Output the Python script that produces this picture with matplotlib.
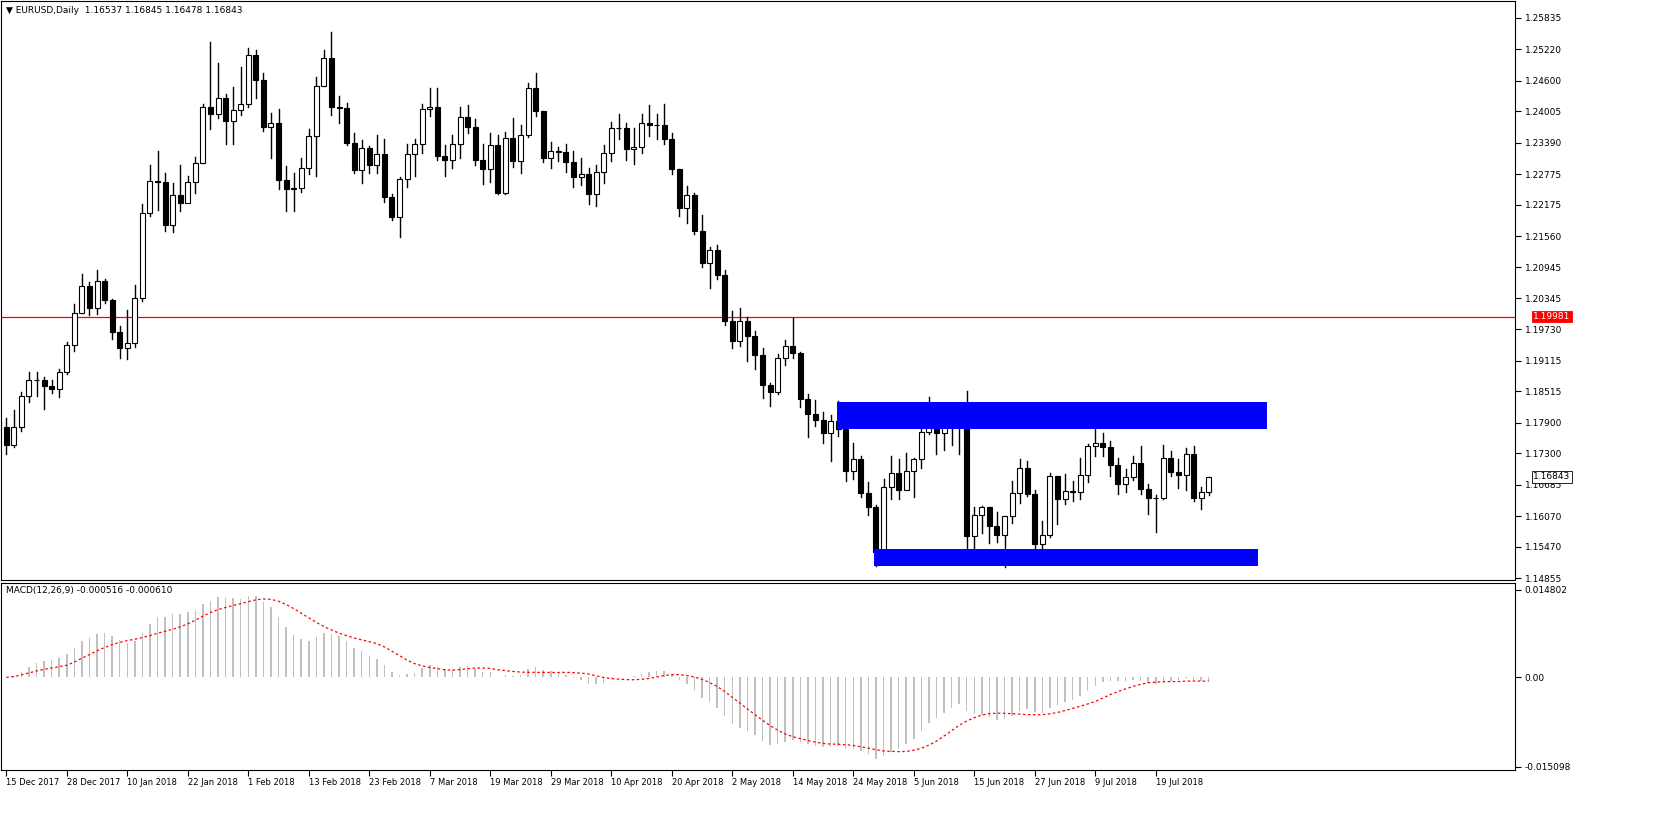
import numpy as np
import pandas as pd
import matplotlib
matplotlib.use("Agg")
import matplotlib.pyplot as plt
from matplotlib.patches import Rectangle

# daily EURUSD bars, Dec 15 2017 .. Jul 30 2018 (Dec 25 / Jan 1 not traded)
dates = pd.bdate_range("2017-12-15", "2018-07-30")
dates = dates[~dates.isin(pd.to_datetime(["2017-12-25", "2018-01-01"]))]

close = [1.1746, 1.1782, 1.1842, 1.1874, 1.1874, 1.1862, 1.1856, 1.1889, 1.1942, 1.2005,
         1.2058, 1.2014, 1.2068, 1.2030, 1.1967, 1.1936, 1.1946, 1.2035, 1.2202, 1.2263,
         1.2262, 1.2178, 1.2237, 1.2221, 1.2262, 1.2299, 1.2409, 1.2396, 1.2426, 1.2382,
         1.2404, 1.2414, 1.2511, 1.2461, 1.2369, 1.2378, 1.2266, 1.2248, 1.2251, 1.2290,
         1.2352, 1.2451, 1.2505, 1.2409, 1.2408, 1.2339, 1.2285, 1.2329, 1.2296, 1.2317,
         1.2232, 1.2194, 1.2267, 1.2316, 1.2336, 1.2405, 1.2409, 1.2313, 1.2305, 1.2336,
         1.2389, 1.2369, 1.2306, 1.2288, 1.2335, 1.2240, 1.2349, 1.2303, 1.2354, 1.2446,
         1.2401, 1.2310, 1.2322, 1.2320, 1.2302, 1.2272, 1.2278, 1.2239, 1.2282, 1.2318,
         1.2367, 1.2367, 1.2327, 1.2330, 1.2377, 1.2373, 1.2373, 1.2347, 1.2288, 1.2211,
         1.2236, 1.2166, 1.2103, 1.2128, 1.2079, 1.1990, 1.1951, 1.1990, 1.1960, 1.1923,
         1.1864, 1.1850, 1.1917, 1.1941, 1.1926, 1.1836, 1.1808, 1.1795, 1.1770, 1.1793,
         1.1778, 1.1696, 1.1719, 1.1653, 1.1624, 1.1537, 1.1664, 1.1692, 1.1659, 1.1695,
         1.1718, 1.1772, 1.1799, 1.1770, 1.1782, 1.1788, 1.1793, 1.1568, 1.1610, 1.1625,
         1.1587, 1.1570, 1.1607, 1.1653, 1.1701, 1.1651, 1.1553, 1.1569, 1.1685, 1.1641,
         1.1656, 1.1654, 1.1688, 1.1745, 1.1750, 1.1742, 1.1708, 1.1670, 1.1684, 1.1712,
         1.1661, 1.1642, 1.1642, 1.1721, 1.1694, 1.1687, 1.1729, 1.1642, 1.1654, 1.16843]
high = [1.1800, 1.1815, 1.1850, 1.1889, 1.1890, 1.1880, 1.1874, 1.1895, 1.1949, 1.2022,
        1.2081, 1.2066, 1.2089, 1.2071, 1.2033, 1.1979, 1.2012, 1.2061, 1.2218, 1.2296,
        1.2323, 1.2280, 1.2260, 1.2296, 1.2273, 1.2311, 1.2415, 1.2537, 1.2495, 1.2435,
        1.2448, 1.2487, 1.2524, 1.2521, 1.2476, 1.2397, 1.2405, 1.2294, 1.2279, 1.2310,
        1.2365, 1.2468, 1.2520, 1.2556, 1.2431, 1.2416, 1.2358, 1.2344, 1.2333, 1.2355,
        1.2347, 1.2239, 1.2272, 1.2336, 1.2346, 1.2415, 1.2446, 1.2446, 1.2334, 1.2355,
        1.2409, 1.2413, 1.2386, 1.2336, 1.2359, 1.2355, 1.2360, 1.2388, 1.2373, 1.2457,
        1.2476, 1.2401, 1.2340, 1.2330, 1.2336, 1.2322, 1.2310, 1.2289, 1.2295, 1.2335,
        1.2379, 1.2396, 1.2377, 1.2367, 1.2396, 1.2413, 1.2396, 1.2414, 1.2359, 1.2287,
        1.2254, 1.2241, 1.2198, 1.2135, 1.2138, 1.2089, 1.2010, 1.2014, 1.1997, 1.1970,
        1.1937, 1.1868, 1.1925, 1.1953, 1.1996, 1.1929, 1.1846, 1.1835, 1.1812, 1.1805,
        1.1833, 1.1794, 1.1750, 1.1725, 1.1674, 1.1628, 1.1679, 1.1724, 1.1718, 1.1731,
        1.1721, 1.1796, 1.1840, 1.1805, 1.1800, 1.1809, 1.1812, 1.1852, 1.1624, 1.1626,
        1.1624, 1.1616, 1.1608, 1.1676, 1.1719, 1.1715, 1.1659, 1.1597, 1.1691, 1.1686,
        1.1690, 1.1676, 1.1720, 1.1749, 1.1791, 1.1769, 1.1755, 1.1721, 1.1699, 1.1724,
        1.1745, 1.1670, 1.1648, 1.1746, 1.1735, 1.1718, 1.1740, 1.1744, 1.1665, 1.16845]
low = [1.1728, 1.1743, 1.1774, 1.1830, 1.1843, 1.1817, 1.1849, 1.1841, 1.1885, 1.1930,
       1.2005, 1.2002, 1.2004, 1.2024, 1.1955, 1.1916, 1.1915, 1.1938, 1.2029, 1.2195,
       1.2208, 1.2166, 1.2164, 1.2206, 1.2224, 1.2240, 1.2299, 1.2366, 1.2387, 1.2336,
       1.2337, 1.2393, 1.2409, 1.2426, 1.2362, 1.2309, 1.2249, 1.2206, 1.2206, 1.2243,
       1.2278, 1.2273, 1.2451, 1.2394, 1.2377, 1.2334, 1.2279, 1.2260, 1.2280, 1.2280,
       1.2223, 1.2187, 1.2155, 1.2253, 1.2274, 1.2319, 1.2392, 1.2305, 1.2273, 1.2290,
       1.2309, 1.2358, 1.2296, 1.2258, 1.2262, 1.2239, 1.2238, 1.2292, 1.2280, 1.2350,
       1.2391, 1.2302, 1.2290, 1.2303, 1.2281, 1.2252, 1.2256, 1.2218, 1.2215, 1.2260,
       1.2304, 1.2346, 1.2305, 1.2298, 1.2318, 1.2353, 1.2346, 1.2336, 1.2278, 1.2196,
       1.2182, 1.2160, 1.2095, 1.2055, 1.2071, 1.1982, 1.1937, 1.1940, 1.1911, 1.1895,
       1.1838, 1.1822, 1.1847, 1.1903, 1.1917, 1.1820, 1.1762, 1.1784, 1.1750, 1.1716,
       1.1765, 1.1676, 1.1679, 1.1645, 1.1610, 1.1510, 1.1534, 1.1641, 1.1640, 1.1678,
       1.1645, 1.1702, 1.1767, 1.1728, 1.1737, 1.1746, 1.1729, 1.1540, 1.1542, 1.1574,
       1.1554, 1.1556, 1.1508, 1.1594, 1.1633, 1.1646, 1.1540, 1.1527, 1.1567, 1.1591,
       1.1631, 1.1637, 1.1640, 1.1673, 1.1724, 1.1724, 1.1686, 1.1650, 1.1654, 1.1678,
       1.1650, 1.1612, 1.1575, 1.1640, 1.1685, 1.1663, 1.1659, 1.1637, 1.1621, 1.16478]
first_open = 1.1782
last_open = 1.16537
open_ = [first_open] + close[:-1]
open_[-1] = last_open

hline_price = 1.19981
zone_top = (109.8, 166.7, 1.17773, 1.18301)   # x0, x1, y0, y1
zone_bot = (114.7, 165.5, 1.15091, 1.15424)
price_ticks = [1.25835, 1.25220, 1.24600, 1.24005, 1.23390, 1.22775, 1.22175, 1.21560,
               1.20945, 1.20345, 1.19730, 1.19115, 1.18515, 1.17900, 1.17300, 1.16685,
               1.16070, 1.15470, 1.14855]

c = np.array(close)
ema12 = pd.Series(c).ewm(span=12, adjust=False).mean()
ema26 = pd.Series(c).ewm(span=26, adjust=False).mean()
macd = (ema12 - ema26).values
signal = pd.Series(macd).rolling(9, min_periods=1).mean().values

plt.rcParams['font.family'] = ['DejaVu Sans']
fig = plt.figure(figsize=(16.57, 8.36), dpi=100)
ax = fig.add_axes([0.0006, 0.3062, 0.9137, 0.6926])
ax2 = fig.add_axes([0.0006, 0.0790, 0.9137, 0.2240])
n = len(close)
xlim = (-0.7, 199.5)

for i in range(n):
    o, h, l, cl = open_[i], high[i], low[i], close[i]
    ax.plot([i, i], [l, h], color='black', lw=1, zorder=2)
    up = cl >= o
    ax.add_patch(Rectangle((i - 0.33, min(o, cl)), 0.66, max(abs(cl - o), 0.00005),
                           facecolor='white' if up else 'black', edgecolor='black',
                           lw=0.8, zorder=3))

for x0, x1, y0, y1 in (zone_top, zone_bot):
    ax.add_patch(Rectangle((x0, y0), x1 - x0, y1 - y0, color='#0000ff', zorder=4, lw=0))

ax.axhline(hline_price, color='red', lw=0.9, zorder=1)
ax.set_xlim(*xlim)
ax.set_ylim(1.14817, 1.26168)
ax.yaxis.tick_right()
ax.set_yticks(price_ticks)
ax.set_yticklabels(['%.5f' % p for p in price_ticks], fontsize=6.5)
ax.tick_params(axis='y', length=4, pad=3)
ax.set_xticks([])
ax.text(0.003, 0.992, '▼ EURUSD,Daily  1.16537 1.16845 1.16478 1.16843', transform=ax.transAxes,
        fontsize=6.5, va='top', ha='left')
for price, fc, tc in ((hline_price, 'red', 'white'), (close[-1], 'white', 'black')):
    ax.text(1.012, price, '%.5f' % price, transform=ax.get_yaxis_transform(), fontsize=6.5,
            va='center', ha='left', color=tc, clip_on=False, zorder=10,
            bbox=dict(boxstyle='square,pad=0.15', fc=fc, ec='black' if fc == 'white' else 'red', lw=0.6))

x = np.arange(n)
ax2.bar(x, macd, width=0.2, color='#c0c0c0')
ax2.plot(x, signal, color='red', lw=0.9, ls=(0, (2, 2)))
ax2.set_xlim(*xlim)
ax2.set_ylim(-0.01561, 0.01598)
ax2.yaxis.tick_right()
ax2.set_yticks([0.014802, 0.0, -0.015098])
ax2.set_yticklabels(['0.014802', '0.00', '-0.015098'], fontsize=6.5)
ax2.tick_params(axis='y', length=4, pad=3)
ax2.text(0.003, 0.985, 'MACD(12,26,9) -0.000516 -0.000610', transform=ax2.transAxes,
         fontsize=6.5, va='top', ha='left')
ticks = list(range(0, n, 8))
ax2.set_xticks(ticks)
ax2.set_xticklabels([dates[t].strftime('%-d %b %Y') for t in ticks], fontsize=6, ha='left')
ax2.tick_params(axis='x', length=4, pad=2)
for a in (ax, ax2):
    for s in a.spines.values():
        s.set_linewidth(0.8)

fig.savefig('out.png', dpi=100)
